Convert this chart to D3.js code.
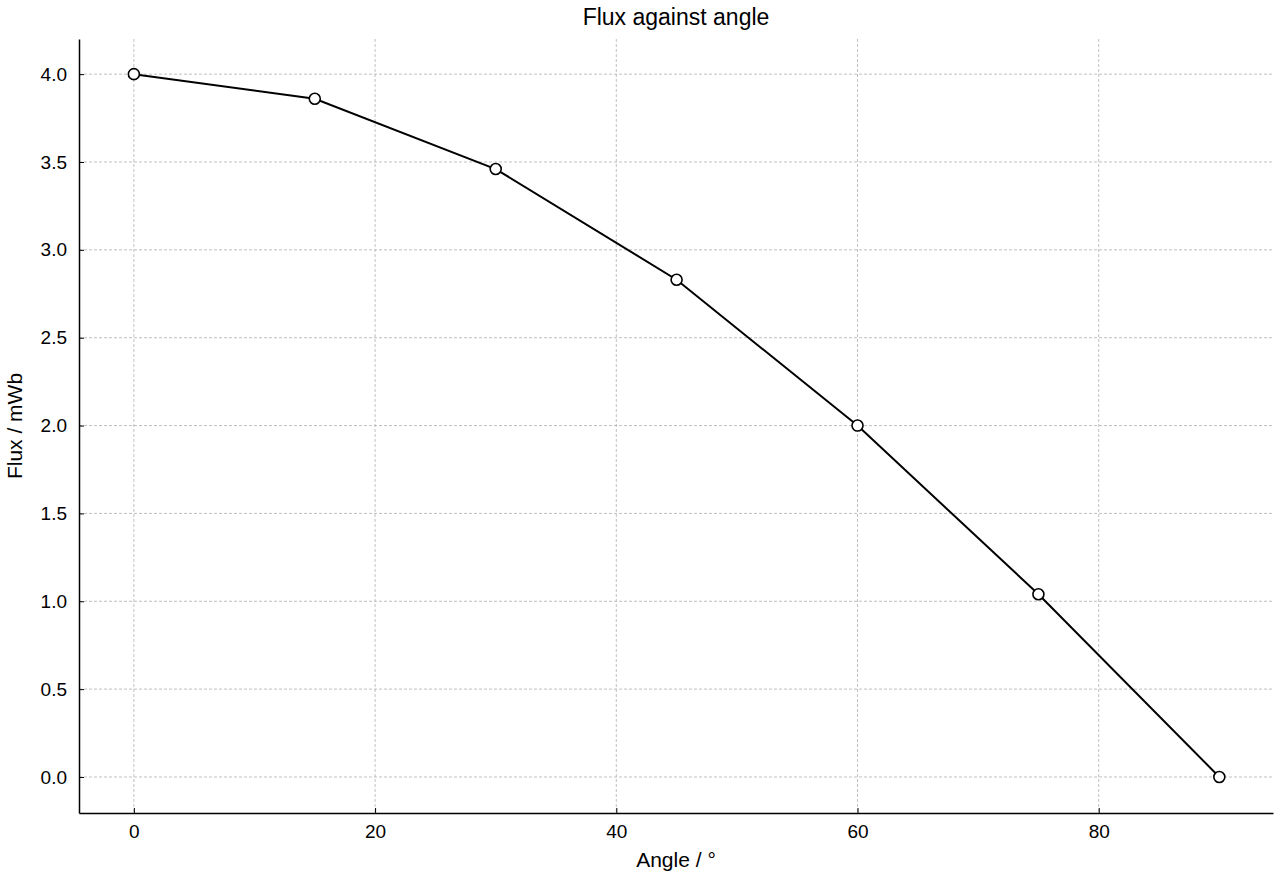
<!DOCTYPE html>
<html><head><meta charset="utf-8">
<script src="https://cdn.jsdelivr.net/npm/d3@7"></script>
<style>body{margin:0;background:#fff;font-family:"Liberation Sans",Arial,sans-serif}
.tick text{font-size:19px !important;fill:#000;font-family:"Liberation Sans",Arial,sans-serif}</style>
</head><body><svg id="chart" width="1280" height="880"></svg>
<script>
const angles = [0, 15, 30, 45, 60, 75, 90];
const flux = [4.0, 3.86, 3.46, 2.83, 2.0, 1.04, 0.0];
const xTicks = [0, 20, 40, 60, 80];
const yTicks = [0, 0.5, 1, 1.5, 2, 2.5, 3, 3.5, 4];

const svg = d3.select('#chart');
const m = {l: 79, r: 1273, t: 39, b: 813};
const x = d3.scaleLinear().domain([-4.55, 94.45]).range([m.l, m.r]);
const y = d3.scaleLinear().domain([-0.205, 4.2]).range([m.b, m.t]);

// grid
svg.append('g').selectAll('line').data(xTicks).join('line')
  .attr('x1', d => x(d)).attr('x2', d => x(d)).attr('y1', m.t).attr('y2', m.b)
  .attr('stroke', '#b0b0b0').attr('stroke-dasharray', '3,2').attr('stroke-width', 0.8);
svg.append('g').selectAll('line').data(yTicks).join('line')
  .attr('y1', d => y(d)).attr('y2', d => y(d)).attr('x1', m.l).attr('x2', m.r)
  .attr('stroke', '#b0b0b0').attr('stroke-dasharray', '3,2').attr('stroke-width', 0.8);

// axes, ticks inward
const xa = svg.append('g').attr('transform', `translate(0,${m.b})`)
  .call(d3.axisBottom(x).tickValues(xTicks).tickSizeInner(-5).tickSizeOuter(0).tickPadding(12));
const ya = svg.append('g').attr('transform', `translate(${m.l},0)`)
  .call(d3.axisLeft(y).tickValues(yTicks).tickFormat(d3.format('.1f')).tickSizeInner(-5).tickSizeOuter(0).tickPadding(12));
[xa, ya].forEach(a => {
  a.select('.domain').attr('stroke', '#000').attr('stroke-width', 1.5);
});

// line + points
const pts = angles.map((a, i) => [a, flux[i]]);
svg.append('path').datum(pts)
  .attr('d', d3.line().x(d => x(d[0])).y(d => y(d[1])))
  .attr('fill', 'none').attr('stroke', '#000').attr('stroke-width', 2);
svg.append('g').selectAll('circle').data(pts).join('circle')
  .attr('cx', d => x(d[0])).attr('cy', d => y(d[1])).attr('r', 5.5)
  .attr('fill', '#fff').attr('stroke', '#000').attr('stroke-width', 1.6);

// labels
svg.append('text').attr('x', (m.l + m.r) / 2).attr('y', 25).attr('text-anchor', 'middle')
  .attr('font-size', 23).text('Flux against angle');
svg.append('text').attr('x', (m.l + m.r) / 2).attr('y', 867).attr('text-anchor', 'middle')
  .attr('font-size', 21).text('Angle / °');
svg.append('text').attr('transform', `translate(22,${(m.t + m.b) / 2}) rotate(-90)`)
  .attr('text-anchor', 'middle').attr('font-size', 21).text('Flux / mWb');
</script></body></html>
